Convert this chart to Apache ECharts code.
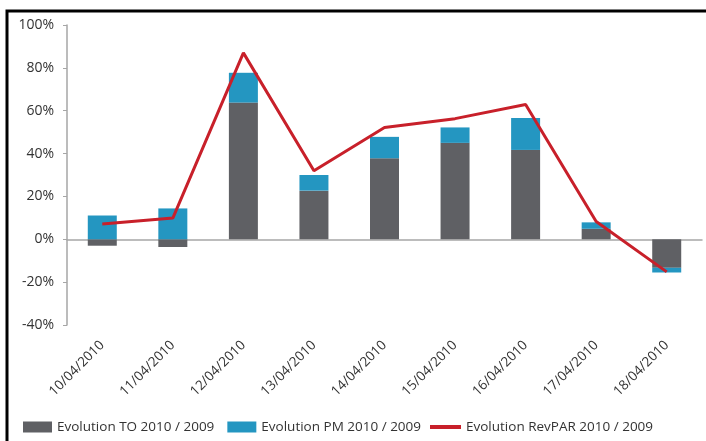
<!DOCTYPE html>
<html><head><meta charset="utf-8">
<script src="https://cdn.jsdelivr.net/npm/echarts@6/dist/echarts.min.js"></script>
<style>html,body{margin:0;padding:0;background:#fff}#c{width:706px;height:441px}</style>
</head><body><div id="c"></div>
<script>
var categories = ['10/04/2010','11/04/2010','12/04/2010','13/04/2010','14/04/2010','15/04/2010','16/04/2010','17/04/2010','18/04/2010'];
var evolTO = [-3, -3.6, 63.8, 22.7, 37.8, 45, 41.7, 4.9, -13.3];
var evolPM = [11.1, 14.4, 13.9, 7.3, 10, 7.2, 14.9, 3, -2.2];
var evolRevPAR = [7.1, 9.9, 87, 32, 52.2, 56.3, 62.9, 8.3, -15.2];
var yTicks = {min: -40, max: 100, interval: 20};
var names = ['Evolution TO 2010 / 2009', 'Evolution PM 2010 / 2009', 'Evolution RevPAR 2010 / 2009'];

var font = 'Open Sans';
var chart = echarts.init(document.getElementById('c'));
chart.setOption({
  animation: false,
  textStyle: {fontFamily: font},
  graphic: [{type: 'rect', shape: {x: 7, y: 11, width: 720, height: 460}, style: {fill: 'none', stroke: '#000', lineWidth: 3}, z: 100}],
  grid: {left: 67, right: 4, top: 25, bottom: 116},
  legend: [{
    left: 23, top: 420, padding: 0, itemWidth: 29, itemHeight: 11, itemGap: 13, icon: 'rect',
    textStyle: {fontFamily: font, fontSize: 13.5, color: '#333'},
    data: [names[0], names[1]]
  }, {
    left: 430, top: 420, padding: 0, itemWidth: 31, itemHeight: 4, icon: 'rect',
    textStyle: {fontFamily: font, fontSize: 13.5, color: '#333'},
    data: [names[2]]
  }],
  xAxis: [{
    type: 'category', data: categories, position: 'bottom',
    axisLine: {show: false, onZero: false}, axisTick: {show: false},
    axisLabel: {rotate: 45, margin: 18, fontSize: 13.5, color: '#333', fontFamily: font, interval: 0}
  }, {
    type: 'category', data: categories, position: 'top',
    axisLine: {onZero: true, lineStyle: {color: '#a6a6a6', width: 1.5}},
    axisTick: {inside: true, length: 5, lineStyle: {color: '#a6a6a6'}},
    axisLabel: {show: false}
  }],
  yAxis: {
    type: 'value', min: yTicks.min, max: yTicks.max, interval: yTicks.interval,
    axisLine: {show: true, lineStyle: {color: '#a6a6a6', width: 1.5}},
    axisTick: {show: true, length: 4, lineStyle: {color: '#a6a6a6'}},
    splitLine: {show: false},
    axisLabel: {formatter: '{value}%', fontSize: 14, color: '#333', margin: 13, fontFamily: font}
  },
  series: [
    {name: names[0], type: 'bar', stack: 'a', data: evolTO, barWidth: 29, itemStyle: {color: '#5f6064'}},
    {name: names[1], type: 'bar', stack: 'a', data: evolPM, barWidth: 29, itemStyle: {color: '#2496c1'}},
    {name: names[2], type: 'line', data: evolRevPAR, symbol: 'none', lineStyle: {color: '#c8202a', width: 3}, itemStyle: {color: '#c8202a'}, z: 5}
  ]
});
</script></body></html>
